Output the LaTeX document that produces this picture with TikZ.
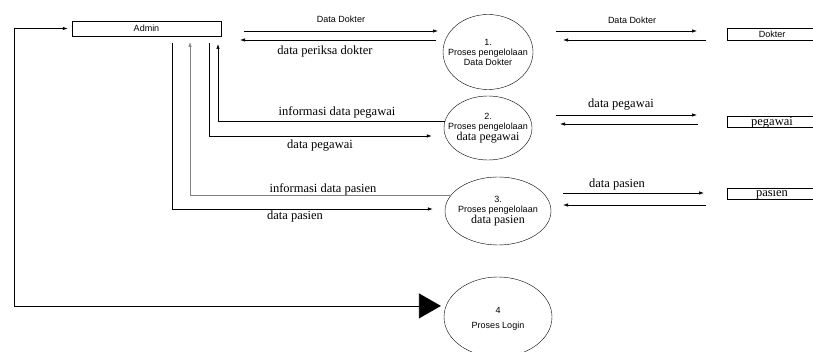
\documentclass[tikz,border=0pt]{standalone}
\usepackage{fontspec}
\setmainfont{Liberation Serif}
\setsansfont{Liberation Sans}
\usetikzlibrary{shapes.geometric,arrows.meta}

\tikzset{
  proses/.style={draw,ellipse,inner sep=0pt},
  isi/.style={align=center,inner sep=0pt,font=\sffamily\fontsize{9}{10}\selectfont},
  entitas/.style={draw,minimum height=11pt,inner sep=0pt,text height=6.5pt,text depth=0pt},
  alir/.style={-{Latex[length=5pt,width=3.5pt]},line width=0.7pt},
  ket/.style={font=\fontsize{12.5}{14}\selectfont},
  ketsf/.style={font=\sffamily\fontsize{9}{10}\selectfont}
}

\begin{document}
\begin{tikzpicture}[x=1pt,y=-1pt]
\useasboundingbox (0,0) rectangle (813,352);

% entitas luar
\node (admin) at (146.5,28.5) [draw,minimum width=149pt,minimum height=15pt,inner sep=0pt,ketsf] {Admin};
\node (dokter) at (772,34) [entitas,minimum height=12pt,minimum width=90pt,ketsf] {Dokter};
\node (pegawai) at (772,122) [entitas,minimum width=90pt,ket] {pegawai};
\node (pasien) at (772,193.5) [entitas,minimum width=90pt,ket] {pasien};

% proses
\node (p1) at (488,52) [proses,minimum width=90pt,minimum height=75pt] {};
\node (p2) at (488,128) [proses,minimum width=88pt,minimum height=64pt] {};
\node (p3) at (498,211) [proses,minimum width=106pt,minimum height=68pt] {};
\node (p4) at (498,317) [proses,minimum width=108pt,minimum height=80pt] {};
\node (p1t) at (p1) [isi] {1.\\Proses pengelolaan\\Data Dokter};
\node (p2t) at (p2) [isi] {2.\\Proses pengelolaan\\{\rmfamily\fontsize{12}{13}\selectfont data pegawai}};
\node (p3t) at (p3) [isi] {3.\\Proses pengelolaan\\{\rmfamily\fontsize{12}{13}\selectfont data pasien}};
\node (p4t) at ([yshift=-2pt]p4) [isi] {4\\[5pt]Proses Login};

% ujung alir
\coordinate (a1) at (172,43);
\coordinate (a2) at (190,42);
\coordinate (a3) at (209,43);
\coordinate (a4) at (218,44);
\coordinate (kiri) at (14,28.5);
\coordinate (b1) at (244,31);
\coordinate (b2) at (438,31);
\coordinate (b3) at (436,40);
\coordinate (b4) at (240,40);
\coordinate (c1) at (556,31);
\coordinate (c2) at (697,31);
\coordinate (c3) at (706,40);
\coordinate (c4) at (563,40);
\coordinate (d1) at (556,115);
\coordinate (d2) at (697,115);
\coordinate (d3) at (698,124);
\coordinate (d4) at (560,124);
\coordinate (e1) at (563,193);
\coordinate (e2) at (704,193);
\coordinate (e3) at (706,205);
\coordinate (e4) at (563,205);

% alir data
\draw[alir] (b1) -- (b2);
\draw[alir] (b3) -- (b4);
\draw[alir] (c1) -- (c2);
\draw[alir] (c3) -- (c4);
\draw[alir] (d1) -- (d2);
\draw[alir] (d3) -- (d4);
\draw[alir] (e1) -- (e2);
\draw[alir] (e3) -- (e4);
\draw[alir] (a1) |- ([shift={(-12pt,2pt)}]p3.west);
\draw[alir,gray] (p3.161) -| (a2);
\draw[alir] (a3) |- ([shift={(-12pt,-8pt)}]p2.west);
\draw[alir] (p2.171) -| (a4);
\draw[{Latex[length=5pt,width=3.5pt]}-{Triangle[length=22pt,width=25pt]},line width=0.7pt,shorten <=4pt,shorten >=5pt] (admin.west) -- (kiri) |- (p4.168);

% keterangan
\node (l1) at (341,19) [ketsf] {Data Dokter};
\node (l2) at (325,51) [ket] {data periksa dokter};
\node (l3) at (337,112) [ket] {informasi data pegawai};
\node (l4) at (320,146) [ket] {data pegawai};
\node (l5) at (323,189) [ket] {informasi data pasien};
\node (l6) at (295,216) [ket] {data pasien};
\node (l7) at (632,20) [ketsf] {Data Dokter};
\node (l8) at (621,105) [ket] {data pegawai};
\node (l9) at (617,184) [ket] {data pasien};
\end{tikzpicture}
\end{document}
